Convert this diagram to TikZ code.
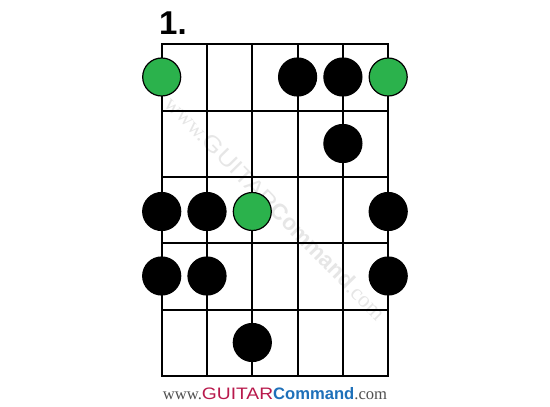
\documentclass[tikz,border=0pt]{standalone}
\usepackage{fontspec}
\setmainfont{Liberation Serif}
\newfontfamily\logosans{Liberation Sans}
\newfontfamily\widesans[FakeStretch=1.16]{Liberation Sans}

\definecolor{dotgreen}{HTML}{2BB24C}
\definecolor{logored}{HTML}{B8194C}
\definecolor{logoblue}{HTML}{1E70B9}
\definecolor{logogray}{HTML}{505050}
\definecolor{markgray}{HTML}{E6E6E6}

\newcommand{\gclogo}[3]{\textcolor{#1}{www.}{\widesans\textcolor{#2}{GUITAR}}{\logosans\bfseries\textcolor{#3}{Command}}\textcolor{#1}{.com}}

\tikzstyle{note} = [circle, draw=black, line width=1.2pt, fill=black,
    minimum size=38pt, inner sep=0pt]
\tikzstyle{root} = [note, fill=dotgreen]
\tikzstyle{fretline} = [line width=2pt, line cap=rect]

\begin{document}
\begin{tikzpicture}[x=1pt, y=-1pt]
    \useasboundingbox (0,0) rectangle (550,407);
    % watermark
    \node [rotate=-45.5, font=\fontsize{22.5}{22.5}\selectfont] (mark) at (276,208)
        {\gclogo{markgray}{markgray}{markgray}};
    % diagram number
    \node [anchor=base west, inner sep=0pt, font=\logosans\bfseries\fontsize{33}{33}\selectfont] (num) at (159,34.5) {1.};
    % strings and frets
    \foreach \s in {0,...,5}
        \draw [fretline] (161.7+45.3*\s,44.3) -- (161.7+45.3*\s,375.8);
    \foreach \f in {0,...,5}
        \draw [fretline] (161.7,44.3+66.3*\f) -- (388.2,44.3+66.3*\f);
    % notes
    \node [root] (f1s1) at (161.7,77) {};
    \node [note] (f1s4) at (297.6,77) {};
    \node [note] (f1s5) at (342.9,77) {};
    \node [root] (f1s6) at (388.2,77) {};
    \node [note] (f2s5) at (342.9,143.5) {};
    \node [note] (f3s1) at (161.7,211.5) {};
    \node [note] (f3s2) at (207,211.5) {};
    \node [root] (f3s3) at (252.3,211.5) {};
    \node [note] (f3s6) at (388.2,211.5) {};
    \node [note] (f4s1) at (161.7,276) {};
    \node [note] (f4s2) at (207,276) {};
    \node [note] (f4s6) at (388.2,276) {};
    \node [note] (f5s3) at (252.3,342.5) {};
    % logo
    \node [anchor=base, inner sep=0pt, font=\fontsize{16.6}{16.6}\selectfont] (logo) at (275,399)
        {\gclogo{logogray}{logored}{logoblue}};
\end{tikzpicture}
\end{document}
